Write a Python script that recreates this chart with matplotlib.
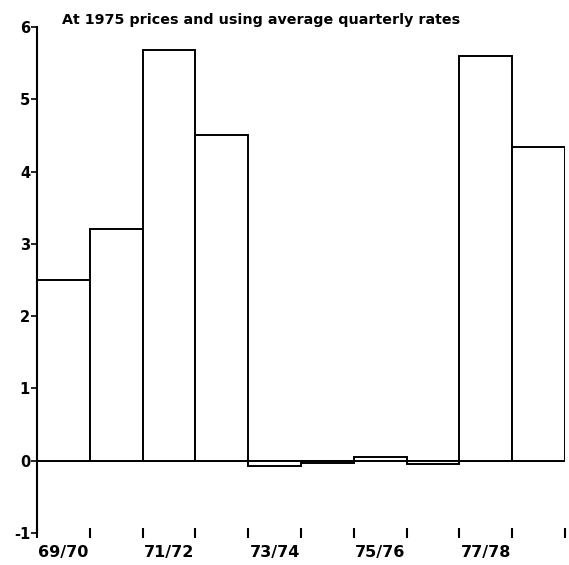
import matplotlib
matplotlib.use("Agg")
import matplotlib.pyplot as plt
import numpy as np

title = "At 1975 prices and using average quarterly rates"
values = [2.5, 3.2, 5.68, 4.5, -0.07, -0.03, 0.05, -0.04, 5.6, 4.34]
year_labels = ["69/70", "71/72", "73/74", "75/76", "77/78"]
y_ticks = [-1, 0, 1, 2, 3, 4, 5, 6]

fig = plt.figure(figsize=(5.69, 5.65), dpi=100)
L, R = 37 / 569, 565 / 569
B, T = 1 - 533 / 565, 1 - 27 / 565
ax = fig.add_axes([L, B, R - L, T - B])

x = np.arange(len(values))
ax.bar(x, values, width=1.0, align="edge", facecolor="white",
       edgecolor="black", linewidth=1.4, zorder=2)
ax.axhline(0, color="black", linewidth=1.2, zorder=1)

ax.set_xlim(0, len(values))
ax.set_ylim(-1, 6)

for s in ["top", "right", "bottom"]:
    ax.spines[s].set_visible(False)
ax.spines["left"].set_linewidth(1.5)

ax.set_yticks(y_ticks)
ax.set_yticklabels([str(v) for v in y_ticks], fontsize=10.5, fontweight="bold")
ax.tick_params(axis="y", direction="out", length=4, width=1.2, pad=1)

ax.set_xticks(np.arange(0, len(values) + 1))
ax.set_xticklabels([])
ax.tick_params(axis="x", which="major", direction="inout", length=7, width=1.5)
ax.set_xticks(np.arange(len(year_labels)) * 2 + 0.5, minor=True)
ax.set_xticklabels(year_labels, minor=True, fontsize=11.5, fontweight="bold")
ax.tick_params(axis="x", which="minor", length=0, pad=9)

fig.text(261 / 569, 1 - 20 / 565, title, ha="center", va="center",
         fontsize=10.3, fontweight="bold")

fig.savefig("out.png", dpi=100)
